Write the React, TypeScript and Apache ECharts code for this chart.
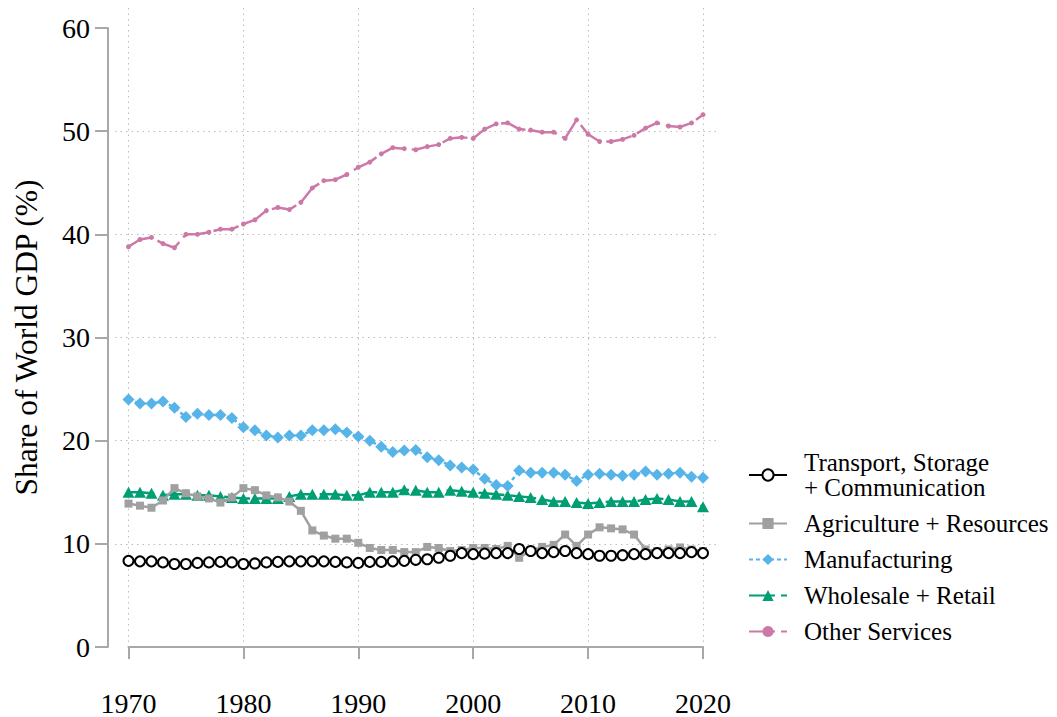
import React, { useEffect, useRef } from "react";
import * as echarts from "echarts";

const years = Array.from({ length: 51 }, (_, i) => 1970 + i);

const transport = [
  8.35, 8.3, 8.3, 8.2, 8.05, 8.05, 8.15, 8.2, 8.25, 8.2,
  8.05, 8.1, 8.2, 8.25, 8.3, 8.3, 8.3, 8.3, 8.25, 8.2,
  8.15, 8.25, 8.25, 8.3, 8.35, 8.45, 8.5, 8.65, 8.85, 9.1,
  9.0, 9.05, 9.1, 9.1, 9.5, 9.3, 9.1, 9.2, 9.3, 9.1,
  9.0, 8.85, 8.85, 8.9, 9.0, 9.0, 9.1, 9.1, 9.1, 9.2,
  9.1,
];

const agriculture = [
  13.9, 13.7, 13.5, 14.2, 15.4, 14.9, 14.6, 14.4, 14.0, 14.5,
  15.4, 15.2, 14.7, 14.5, 14.1, 13.2, 11.3, 10.8, 10.5, 10.5,
  10.1, 9.6, 9.4, 9.4, 9.2, 9.2, 9.7, 9.6, 9.3, 9.4,
  9.6, 9.6, 9.5, 9.8, 8.65, 9.35, 9.7, 9.9, 10.9, 9.8,
  10.9, 11.6, 11.5, 11.4, 10.9, 9.45, 9.3, 9.45, 9.65, 9.45,
  9.3,
];

const manufacturing = [
  24.0, 23.6, 23.6, 23.8, 23.2, 22.3, 22.6, 22.5, 22.5, 22.2,
  21.3, 21.0, 20.5, 20.3, 20.5, 20.5, 21.0, 21.0, 21.1, 20.8,
  20.4, 20.0, 19.4, 18.9, 19.05, 19.1, 18.4, 18.1, 17.6, 17.4,
  17.2, 16.3, 15.7, 15.6, 17.1, 16.9, 16.9, 16.9, 16.7, 16.1,
  16.7, 16.8, 16.7, 16.6, 16.7, 17.0, 16.7, 16.8, 16.9, 16.5,
  16.4,
];

const wholesale = [
  15.0, 15.0, 14.9, 14.7, 14.8, 14.8, 14.7, 14.7, 14.6, 14.5,
  14.4, 14.4, 14.4, 14.4, 14.6, 14.8, 14.8, 14.8, 14.8, 14.7,
  14.7, 15.0, 15.0, 15.0, 15.25, 15.2, 15.0, 15.0, 15.2, 15.1,
  15.0, 14.9, 14.8, 14.7, 14.6, 14.5, 14.3, 14.1, 14.1, 14.0,
  13.9, 14.0, 14.1, 14.1, 14.1, 14.3, 14.4, 14.3, 14.1, 14.1,
  13.6,
];

const otherServices = [
  38.8, 39.5, 39.7, 39.1, 38.7, 40.0, 40.0, 40.2, 40.5, 40.5,
  41.0, 41.4, 42.3, 42.6, 42.4, 43.1, 44.5, 45.2, 45.3, 45.8,
  46.5, 47.0, 47.8, 48.4, 48.3, 48.2, 48.5, 48.7, 49.3, 49.4,
  49.3, 50.2, 50.7, 50.8, 50.2, 50.1, 49.9, 49.9, 49.3, 51.1,
  49.7, 49.0, 49.0, 49.2, 49.6, 50.3, 50.8, 50.5, 50.4, 50.8,
  51.6,
];

const seriesNames = [
  "Transport, Storage\n+ Communication",
  "Agriculture + Resources",
  "Manufacturing",
  "Wholesale + Retail",
  "Other Services",
];

const yTicks = [0, 10, 20, 30, 40, 50, 60];
const xTicks = [1970, 1980, 1990, 2000, 2010, 2020];

const FONT = "'Liberation Serif', 'Times New Roman', serif";
const AXIS_GRAY = "#a8a8a8";
const GRID_GRAY = "#bdbdbd";

function pairs(vals: number[]) {
  return years.map((y, i) => [y, vals[i]]);
}

export default function App() {
  const ref = useRef<HTMLDivElement>(null);

  useEffect(() => {
    document.body.style.margin = "0";
    if (!ref.current) return;
    const chart = echarts.init(ref.current, undefined, { renderer: "svg" });

    const gridLine = { type: [1.5, 4] as any, color: GRID_GRAY, width: 1 };

    const option: any = {
      animation: false,
      backgroundColor: "#ffffff",
      textStyle: { fontFamily: FONT },
      grid: [
        { left: 128.5, right: 354, top: 8, bottom: 55, containLabel: false, outerBoundsMode: "none" },
        { left: 115, right: 337, top: 28, bottom: 70, containLabel: false, outerBoundsMode: "none" },
        { left: 128.5, right: 354, top: 28, bottom: 70, containLabel: false, outerBoundsMode: "none" },
      ],
      xAxis: [
        {
          gridIndex: 0,
          type: "value",
          min: xTicks[0],
          max: xTicks[xTicks.length - 1],
          interval: 10,
          axisLine: { show: false },
          axisTick: { show: false },
          axisLabel: { show: false },
          splitLine: { show: true, lineStyle: gridLine },
        },
        {
          gridIndex: 1,
          type: "value",
          show: false,
          min: 0,
          max: 1,
        },
        {
          gridIndex: 2,
          type: "value",
          min: xTicks[0],
          max: xTicks[xTicks.length - 1],
          interval: 10,
          offset: 21,
          axisLine: { show: true, lineStyle: { color: AXIS_GRAY, width: 2 } },
          axisTick: { show: true, length: 12, lineStyle: { color: AXIS_GRAY, width: 2 } },
          axisLabel: {
            show: true,
            margin: 21,
            fontSize: 28,
            color: "#000",
            fontFamily: FONT,
            formatter: (v: number) => String(v),
          },
          splitLine: { show: false },
        },
      ],
      yAxis: [
        { gridIndex: 0, type: "value", show: false, min: 0, max: 1 },
        {
          gridIndex: 1,
          type: "value",
          min: yTicks[0],
          max: yTicks[yTicks.length - 1],
          interval: 10,
          axisLine: { show: false },
          axisTick: { show: false },
          axisLabel: { show: false },
          splitLine: { show: true, showMinLine: false, showMaxLine: false, lineStyle: gridLine },
        },
        {
          gridIndex: 2,
          type: "value",
          min: yTicks[0],
          max: yTicks[yTicks.length - 1],
          interval: 10,
          offset: 20.5,
          name: "Share of World GDP (%)",
          nameLocation: "middle",
          nameGap: 66,
          nameTextStyle: { fontSize: 31.5, color: "#000", fontFamily: FONT },
          axisLine: { show: true, lineStyle: { color: AXIS_GRAY, width: 2 } },
          axisTick: { show: true, length: 13, lineStyle: { color: AXIS_GRAY, width: 2 } },
          axisLabel: { show: true, margin: 18, fontSize: 28, color: "#000", fontFamily: FONT },
          splitLine: { show: false },
        },
      ],
      legend: {
        orient: "vertical",
        left: 748,
        top: 450,
        padding: 0,
        itemWidth: 38,
        itemHeight: 14,
        itemGap: 11,
        textStyle: { fontSize: 25, lineHeight: 25, color: "#000", fontFamily: FONT, padding: [0, 0, 0, 12] },
        data: seriesNames,
      },
      series: [
        {
          name: seriesNames[0],
          type: "line",
          xAxisIndex: 2,
          yAxisIndex: 2,
          data: pairs(transport),
          symbol: "emptyCircle",
          symbolSize: 10,
          showAllSymbol: true,
          z: 6,
          lineStyle: { color: "#000", width: 2.5 },
          itemStyle: { color: "#000", borderColor: "#000", borderWidth: 2.5 },
        },
        {
          name: seriesNames[1],
          type: "line",
          xAxisIndex: 2,
          yAxisIndex: 2,
          data: pairs(agriculture),
          symbol: "rect",
          symbolSize: 8,
          showAllSymbol: true,
          z: 5,
          lineStyle: { color: "#a0a0a0", width: 2.5 },
          itemStyle: { color: "#a0a0a0" },
        },
        {
          name: seriesNames[2],
          type: "line",
          xAxisIndex: 2,
          yAxisIndex: 2,
          data: pairs(manufacturing),
          symbol: "diamond",
          symbolSize: 12,
          showAllSymbol: true,
          z: 4,
          lineStyle: { color: "#56b4e9", width: 2.5, type: [4, 3] },
          itemStyle: { color: "#56b4e9" },
        },
        {
          name: seriesNames[3],
          type: "line",
          xAxisIndex: 2,
          yAxisIndex: 2,
          data: pairs(wholesale),
          symbol: "triangle",
          symbolSize: [12, 11],
          showAllSymbol: true,
          z: 3,
          lineStyle: { color: "#009e73", width: 2.5, type: [26, 6] },
          itemStyle: { color: "#009e73" },
        },
        {
          name: seriesNames[4],
          type: "line",
          xAxisIndex: 2,
          yAxisIndex: 2,
          data: pairs(otherServices),
          symbol: "circle",
          symbolSize: 5,
          showAllSymbol: true,
          z: 2,
          lineStyle: { color: "#cc79a7", width: 2.5, type: [26, 6] },
          itemStyle: { color: "#cc79a7" },
        },
      ],
    };

    chart.setOption(option);
    return () => chart.dispose();
  }, []);

  return (
    <div
      ref={ref}
      style={{ position: "fixed", left: 0, top: 0, width: 1057, height: 717, background: "#fff" }}
    />
  );
}
